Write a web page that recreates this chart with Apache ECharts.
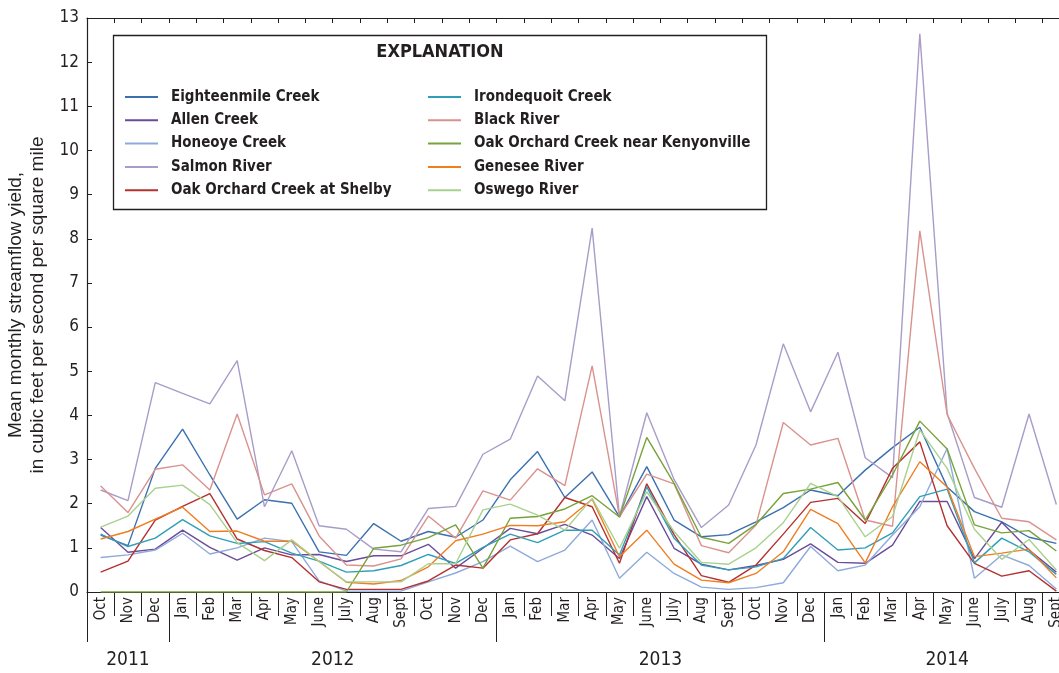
<!DOCTYPE html>
<html>
<head>
<meta charset="utf-8">
<script src="https://cdn.jsdelivr.net/npm/echarts@6/dist/echarts.min.js"></script>
<style>
  html, body { margin: 0; padding: 0; background: #fff; }
  #chart { width: 1059px; height: 673px; }
</style>
</head>
<body>
<div id="chart"></div>
<script>
// Month labels, October 2011 through September 2014
const monthNames = ['Oct', 'Nov', 'Dec', 'Jan', 'Feb', 'Mar', 'Apr', 'May', 'June', 'July', 'Aug', 'Sept'];
const months = [].concat(monthNames, monthNames, monthNames);

// Year captions and how many months each spans
const years = ['2011', '2012', '2013', '2014'];
const yearSpans = [3, 12, 12, 9];

const yTicks = [0, 13, 1]; // min, max, step

// Mean monthly streamflow yield, cubic feet per second per square mile
const eighteenmile = [1.29, 1.05, 2.80, 3.69, 2.65, 1.65, 2.09, 2.01, 0.91, 0.83, 1.55, 1.15,
  1.37, 1.24, 1.63, 2.54, 3.18, 2.14, 2.72, 1.70, 2.84, 1.63, 1.25, 1.30,
  1.59, 1.91, 2.31, 2.18, 2.76, 3.27, 3.73, 2.38, 1.82, 1.59, 1.24, 1.10];
const allen = [1.46, 0.90, 0.97, 1.40, 1.01, 0.72, 1.00, 0.84, 0.85, 0.69, 0.82, 0.82,
  1.08, 0.54, 0.99, 1.44, 1.32, 1.53, 1.29, 0.76, 2.16, 0.99, 0.63, 0.50,
  0.60, 0.74, 1.09, 0.67, 0.65, 1.06, 2.05, 2.05, 0.75, 1.58, 0.95, 0.45];
const honeoye = [0.78, 0.84, 0.95, 1.33, 0.86, 1.00, 1.22, 1.14, 0.25, 0.02, 0.02, 0.02,
  0.23, 0.43, 0.69, 1.04, 0.69, 0.95, 1.63, 0.31, 0.90, 0.42, 0.11, 0.06,
  0.10, 0.21, 1.03, 0.48, 0.61, 1.29, 1.93, 3.25, 0.31, 0.84, 0.60, 0.07];
const salmon = [2.31, 2.07, 4.74, 4.50, 4.26, 5.24, 1.93, 3.20, 1.50, 1.42, 0.97, 0.91,
  1.89, 1.94, 3.12, 3.46, 4.89, 4.33, 8.24, 1.71, 4.06, 2.55, 1.46, 1.97,
  3.33, 5.62, 4.08, 5.43, 3.04, 2.59, 12.64, 4.05, 2.14, 1.92, 4.03, 1.98];
const shelby = [0.45, 0.70, 1.63, 1.94, 2.23, 1.20, 0.94, 0.78, 0.23, 0.06, 0.06, 0.06,
  0.25, 0.61, 0.54, 1.18, 1.32, 2.14, 1.93, 0.65, 2.45, 1.30, 0.37, 0.22,
  0.61, 1.31, 2.03, 2.12, 1.55, 2.80, 3.40, 1.50, 0.65, 0.36, 0.48, 0.02];
const irondequoit = [1.31, 1.03, 1.22, 1.64, 1.27, 1.10, 1.14, 0.88, 0.70, 0.45, 0.48, 0.60,
  0.85, 0.65, 1.01, 1.31, 1.12, 1.40, 1.40, 0.84, 2.38, 1.22, 0.61, 0.50,
  0.57, 0.76, 1.46, 0.95, 1.00, 1.34, 2.16, 2.33, 0.66, 1.22, 0.91, 0.40];
const blackRiver = [2.40, 1.80, 2.78, 2.88, 2.31, 4.03, 2.20, 2.45, 1.27, 0.61, 0.59, 0.75,
  1.72, 1.22, 2.29, 2.08, 2.79, 2.41, 5.12, 1.71, 2.67, 2.45, 1.05, 0.89,
  1.52, 3.84, 3.33, 3.48, 1.63, 1.49, 8.18, 4.02, 2.80, 1.67, 1.59, 1.18];
const kenyonville = [0, 0, 0, 0, 0, 0, 0, 0, 0, 0, 0.99, 1.06,
  1.23, 1.52, 0.54, 1.67, 1.71, 1.88, 2.18, 1.70, 3.50, 2.46, 1.24, 1.10,
  1.53, 2.23, 2.33, 2.48, 1.63, 2.65, 3.87, 3.24, 1.52, 1.34, 1.39, 0.93];
const genesee = [1.20, 1.37, 1.65, 1.92, 1.37, 1.38, 1.15, 1.15, 0.69, 0.22, 0.18, 0.26,
  0.57, 1.16, 1.31, 1.51, 1.50, 1.59, 2.10, 0.80, 1.40, 0.63, 0.27, 0.21,
  0.42, 0.91, 1.87, 1.55, 0.66, 1.93, 2.95, 2.38, 0.80, 0.88, 0.97, 0.32];
const oswego = [1.47, 1.72, 2.35, 2.42, 1.98, 1.12, 0.71, 1.18, 0.69, 0.23, 0.23, 0.23,
  0.64, 0.64, 1.86, 1.99, 1.74, 1.40, 2.12, 0.99, 2.27, 1.37, 0.67, 0.63,
  1.00, 1.57, 2.46, 2.16, 1.25, 1.71, 3.67, 2.80, 1.42, 0.74, 1.19, 0.50];

const stations = [
  { name: 'Eighteenmile Creek', data: eighteenmile, color: '#3a70b0' },
  { name: 'Allen Creek', data: allen, color: '#6b4c9a' },
  { name: 'Honeoye Creek', data: honeoye, color: '#8eaadb' },
  { name: 'Salmon River', data: salmon, color: '#a99cc9' },
  { name: 'Oak Orchard Creek at Shelby', data: shelby, color: '#b3312f' },
  { name: 'Irondequoit Creek', data: irondequoit, color: '#2f9fb8' },
  { name: 'Black River', data: blackRiver, color: '#d9928d' },
  { name: 'Oak Orchard Creek near Kenyonville', data: kenyonville, color: '#78a23a' },
  { name: 'Genesee River', data: genesee, color: '#ef7d22' },
  { name: 'Oswego River', data: oswego, color: '#a9d18e' }
];

const NARROW = "'Liberation Sans Narrow', 'DejaVu Sans Condensed', 'Roboto Condensed', 'Liberation Sans', sans-serif";
const REGULAR = "'Liberation Sans', Arial, sans-serif";
const INK = '#231f20';

// Year caption positions in month units (centre of each year's span)
const yearAt = {};
let start = 0;
years.forEach((y, k) => { yearAt[(start + yearSpans[k] / 2).toFixed(1)] = y; start += yearSpans[k]; });
// Month indices where a new year begins (long separators)
const yearStarts = new Set([0]);
start = 0;
yearSpans.forEach(s => { start += s; yearStarts.add(start); });

const chart = echarts.init(document.getElementById('chart'), null, { renderer: 'canvas' });

const legendCommon = {
  orient: 'vertical',
  top: 89,
  icon: 'rect',
  itemWidth: 33,
  itemHeight: 2,
  itemGap: 7.3,
  padding: 0,
  selectedMode: false,
  textStyle: { fontFamily: NARROW, fontWeight: 'bold', fontSize: 15, lineHeight: 16,
    color: INK, padding: [0, 0, 0, 8] }
};

chart.setOption({
  animation: false,
  backgroundColor: '#fff',
  grid: { left: 87, top: 18, width: 983, height: 574, containLabel: false, outerBoundsMode: 'none' },
  graphic: [
    { type: 'rect', z: 0, shape: { x: 113.5, y: 35.5, width: 653, height: 174 },
      style: { fill: '#fff', stroke: INK, lineWidth: 1.3 } },
    { type: 'text', z: 1, x: 440, y: 52,
      style: { text: 'EXPLANATION', fontFamily: NARROW, fontWeight: 'bold', fontSize: 18,
        fill: INK, align: 'center', verticalAlign: 'middle' } }
  ],
  legend: [
    Object.assign({ left: 125, data: stations.slice(0, 5).map(s => s.name) }, legendCommon),
    Object.assign({ left: 428, data: stations.slice(5).map(s => s.name) }, legendCommon)
  ],
  xAxis: [
    { // month labels and short separators
      type: 'category', data: months, boundaryGap: true, position: 'bottom',
      axisLine: { show: true, lineStyle: { color: INK, width: 1.2 } },
      axisTick: { show: true, interval: 0, length: 24, lineStyle: { color: INK, width: 1 } },
      axisLabel: { show: true, interval: 0, rotate: 90, margin: 5, fontFamily: NARROW, fontSize: 15, color: INK }
    },
    { // long separators at the start of each year
      type: 'category', data: months, boundaryGap: true, position: 'bottom',
      axisLine: { show: false },
      axisTick: { show: true, interval: (i) => yearStarts.has(i), length: 50, lineStyle: { color: INK, width: 1 } },
      axisLabel: { show: false }
    },
    { // top frame with inward ticks
      type: 'category', data: months, boundaryGap: true, position: 'top',
      axisLine: { show: true, lineStyle: { color: INK, width: 1.2 } },
      axisTick: { show: true, interval: 0, inside: true, length: 5, lineStyle: { color: INK, width: 1 } },
      axisLabel: { show: false }
    },
    { // year captions, placed in month units
      type: 'value', min: 0, max: months.length, interval: 1.5, position: 'bottom',
      axisLine: { show: false }, axisTick: { show: false }, splitLine: { show: false },
      axisLabel: { show: true, margin: 59, fontFamily: NARROW, fontSize: 19, color: INK,
        formatter: (v) => yearAt[v.toFixed(1)] || '' }
    }
  ],
  yAxis: {
    type: 'value', min: yTicks[0], max: yTicks[1], interval: yTicks[2],
    name: 'Mean monthly streamflow yield,\nin cubic feet per second per square mile',
    nameLocation: 'middle', nameGap: 34, nameRotate: 90,
    nameTextStyle: { fontFamily: REGULAR, fontSize: 19, lineHeight: 22, color: INK },
    axisLine: { show: true, lineStyle: { color: INK, width: 1.2 } },
    axisTick: { show: true, inside: true, length: 5, lineStyle: { color: INK, width: 1 } },
    axisLabel: { show: true, margin: 8, fontFamily: NARROW, fontSize: 17, color: INK },
    splitLine: { show: false }
  },
  series: stations.map(s => ({
    name: s.name, type: 'line', data: s.data, xAxisIndex: 0,
    symbol: 'none', color: s.color,
    lineStyle: { width: 1.4, color: s.color }
  }))
});
</script>
</body>
</html>
